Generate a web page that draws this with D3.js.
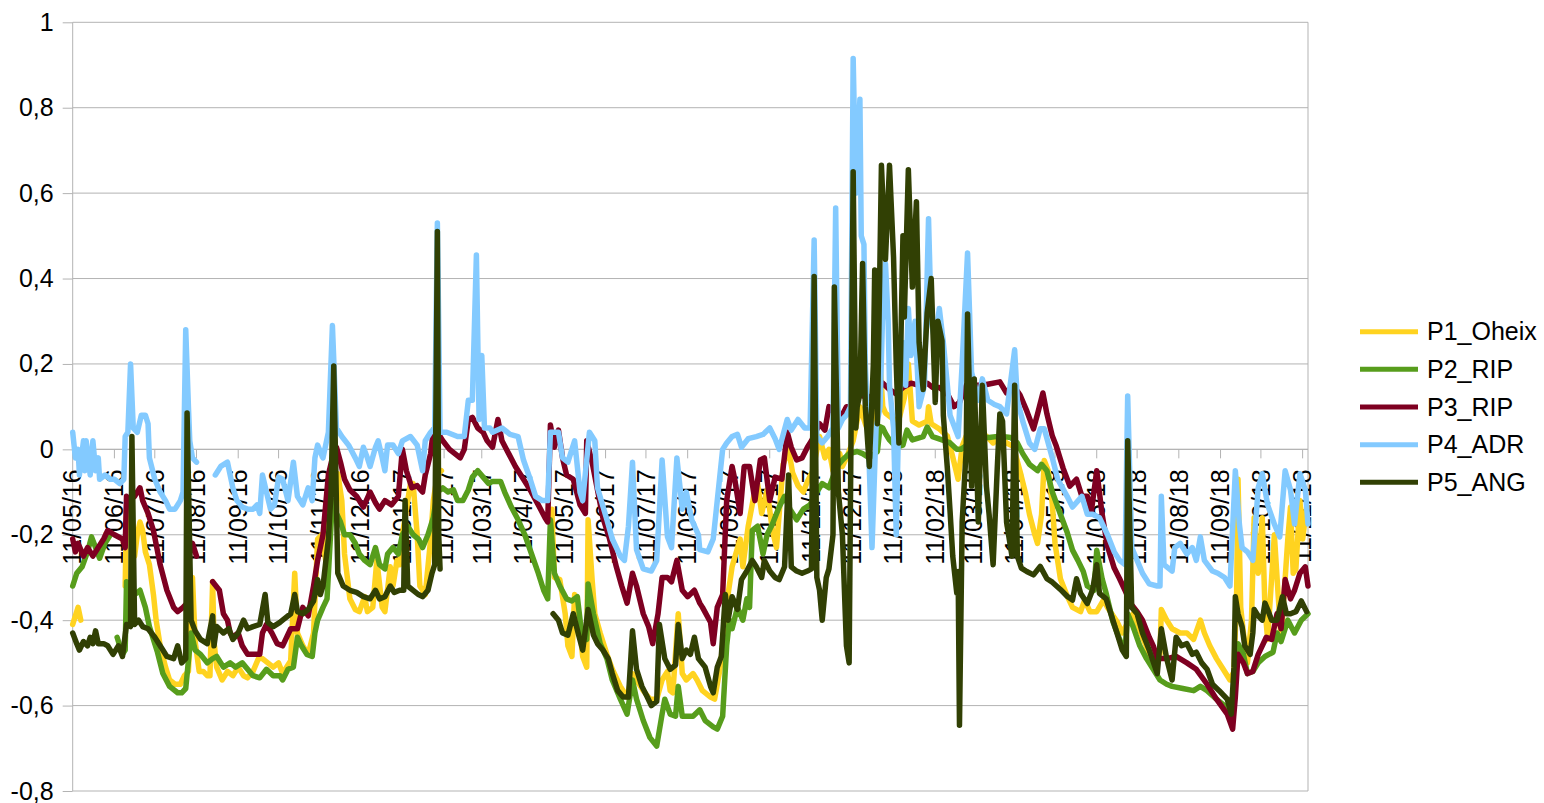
<!DOCTYPE html>
<html>
<head>
<meta charset="utf-8">
<script src="https://cdn.jsdelivr.net/npm/d3@7"></script>
<style>
  html, body { margin: 0; padding: 0; background: #ffffff; }
  svg { display: block; font-family: "Liberation Sans", Arial, sans-serif; }
</style>
</head>
<body>
<svg id="chart" width="1544" height="803"></svg>
<script>
// First reading date; every series point is [days since START, value] (null = no reading)
const START = new Date(2016, 4, 11);
const LAST_DAY = 918;

const tickLabels = ["11/05/16","11/06/16","11/07/16","11/08/16","11/09/16","11/10/16","11/11/16","11/12/16",
  "11/01/17","11/02/17","11/03/17","11/04/17","11/05/17","11/06/17","11/07/17","11/08/17","11/09/17",
  "11/10/17","11/11/17","11/12/17","11/01/18","11/02/18","11/03/18","11/04/18","11/05/18","11/06/18",
  "11/07/18","11/08/18","11/09/18","11/10/18","11/11/18"];

const yTicks = [-0.8, -0.6, -0.4, -0.2, 0, 0.2, 0.4, 0.6, 0.8, 1];

const seriesNames = ["P1_Oheix", "P2_RIP", "P3_RIP", "P4_ADR", "P5_ANG"];
const seriesColors = ["#ffd320", "#579d1c", "#7e0021", "#83caff", "#314004"];

const p1Oheix = [[0,-0.41],[2,-0.39],[4,-0.37],[6,-0.40],[7,null],
  [39,-0.32],[40,-0.14],[43,-0.16],[46,-0.25],[48,-0.20],[50,-0.17],[52,-0.19],[54,-0.24],[57,-0.27],[60,-0.34],
  [62,-0.40],[65,-0.46],[69,-0.51],[72,-0.54],[76,-0.55],[80,-0.55],[83,-0.53],[86,-0.52],[89,-0.30],[91,-0.45],
  [94,-0.52],[97,-0.52],[100,-0.53],[102,-0.53],[104,-0.31],[105,-0.45],[107,-0.51],[111,-0.54],[115,-0.52],
  [119,-0.53],[123,-0.51],[127,-0.53],[130,-0.535],[134,-0.52],[138,-0.49],[141,-0.49],[145,-0.50],[149,-0.51],
  [153,-0.50],[156,-0.525],[162,-0.495],[165,-0.29],[167,-0.43],[171,-0.46],[175,-0.48],[179,-0.43],[182,-0.21],
  [185,-0.20],[188,-0.26],[191,-0.09],[197,-0.057],[200,-0.12],[202,-0.245],[206,-0.35],[210,-0.375],[213,-0.38],
  [217,-0.345],[219,-0.38],[223,-0.37],[226,-0.26],[230,-0.37],[232,-0.38],[236,-0.275],[238,-0.32],[241,-0.26],
  [243,-0.27],[245,-0.20],[251,-0.08],[253,-0.08],[256,-0.20],[258,-0.32],[262,-0.34],[266,-0.21],[268,-0.12],
  [271,-0.06],[274,-0.05],[276,null],
  [356,-0.14],[358,-0.30],[362,-0.305],[366,-0.385],[368,-0.46],[371,-0.485],[373,-0.34],[376,-0.40],[379,-0.485],
  [382,-0.51],[383,-0.165],[386,-0.305],[388,-0.385],[392,-0.43],[397,-0.48],[401,-0.515],[407,-0.555],[412,-0.58],
  [416,-0.525],[419,-0.54],[424,-0.565],[429,-0.585],[434,-0.585],[438,-0.54],[442,-0.52],[444,-0.565],[446,-0.57],
  [450,-0.385],[453,-0.525],[456,-0.54],[461,-0.525],[464,-0.54],[468,-0.565],[474,-0.58],[477,-0.585],[481,-0.515],
  [483,-0.46],[487,-0.34],[490,-0.275],[496,-0.21],[498,-0.275],[502,-0.18],[507,-0.095],[509,-0.08],[512,-0.15],
  [516,-0.095],[520,-0.19],[523,-0.23],[528,-0.035],[532,0.0],[535,-0.055],[539,-0.085],[543,-0.10],[546,-0.075],
  [550,-0.05],[555,0.03],[559,-0.02],[562,0.0],[565,-0.05],[570,-0.01],[572,-0.04],[575,-0.02],[580,0.02],
  [585,0.10],[589,0.06],[594,0.02],[598,0.12],[600,0.20],[602,0.10],[604,0.085],[610,0.07],[614,0.07],[618,0.12],
  [621,0.20],[624,0.066],[629,0.057],[635,0.066],[636,0.10],[638,0.06],[644,0.048],[650,0.031],[654,-0.018],
  [658,-0.07],[661,0.007],[664,0.031],[668,0.03],[674,0.031],[679,0.031],[684,0.015],[689,0.031],[694,0.015],
  [699,0.007],[704,-0.051],[708,-0.102],[711,-0.152],[715,-0.20],[717,-0.22],[720,-0.152],[722,-0.026],[725,-0.05],
  [728,-0.128],[730,-0.22],[734,-0.303],[739,-0.343],[743,-0.37],[749,-0.38],[752,-0.353],[756,-0.38],[761,-0.38],
  [766,-0.353],[769,-0.37],[776,-0.403],[780,-0.43],[785,-0.40],[788,-0.385],[795,-0.44],[803,-0.50],[808,-0.48],
  [809,-0.375],[813,-0.40],[817,-0.42],[823,-0.43],[828,-0.43],[833,-0.445],[838,-0.40],[841,-0.43],[845,-0.46],
  [850,-0.49],[855,-0.515],[860,-0.54],[863,-0.52],[865,-0.33],[866,-0.07],[868,-0.37],[870,-0.43],[873,-0.50],
  [876,-0.40],[878,-0.16],[881,-0.29],[884,-0.16],[886,-0.37],[888,-0.445],[891,-0.30],[893,-0.20],[896,-0.35],
  [898,-0.445],[900,-0.35],[903,-0.21],[905,-0.135],[907,-0.29],[909,-0.28],[912,-0.12],[914,-0.21],[917,-0.135]];

const p2Rip = [[0,-0.32],[3,-0.29],[7,-0.275],[11,-0.24],[14,-0.205],[17,-0.23],[20,-0.255],[24,-0.22],[28,-0.20],[29,null],
  [33,-0.44],[35,-0.46],[37,-0.48],[39,-0.47],[40,-0.31],[43,-0.32],[46,-0.34],[50,-0.33],[54,-0.37],[57,-0.415],
  [63,-0.475],[67,-0.525],[72,-0.555],[78,-0.57],[81,-0.57],[84,-0.56],[88,-0.43],[91,-0.47],[95,-0.48],[100,-0.50],
  [104,-0.49],[107,-0.485],[112,-0.51],[117,-0.50],[121,-0.51],[126,-0.50],[130,-0.515],[134,-0.53],[139,-0.535],
  [144,-0.515],[149,-0.53],[154,-0.53],[156,-0.54],[160,-0.515],[164,-0.51],[167,-0.44],[170,-0.46],[174,-0.48],
  [178,-0.485],[180,-0.43],[182,-0.40],[186,-0.37],[189,-0.35],[193,-0.12],[196,-0.15],[199,-0.17],[202,-0.20],
  [206,-0.20],[210,-0.22],[213,-0.245],[217,-0.26],[221,-0.27],[225,-0.23],[228,-0.27],[232,-0.28],[234,-0.245],
  [238,-0.23],[242,-0.245],[245,-0.20],[249,-0.18],[253,-0.20],[257,-0.21],[260,-0.23],[264,-0.20],[268,-0.16],
  [271,-0.10],[275,-0.09],[279,-0.10],[283,-0.095],[286,-0.12],[290,-0.12],[294,-0.095],[297,-0.065],[301,-0.05],
  [305,-0.065],[309,-0.08],[312,-0.075],[318,-0.075],[321,-0.10],[326,-0.135],[331,-0.165],[336,-0.20],[341,-0.245],
  [346,-0.29],[350,-0.33],[353,-0.35],[355,-0.165],[358,-0.29],[362,-0.32],[367,-0.35],[371,-0.355],[375,-0.345],
  [378,-0.425],[382,-0.445],[383,-0.315],[387,-0.385],[392,-0.455],[397,-0.49],[401,-0.54],[407,-0.585],[412,-0.62],
  [416,-0.54],[419,-0.585],[424,-0.635],[429,-0.675],[434,-0.695],[438,-0.62],[440,-0.585],[444,-0.62],[448,-0.625],
  [450,-0.555],[453,-0.625],[456,-0.625],[461,-0.625],[466,-0.61],[470,-0.635],[476,-0.65],[479,-0.655],[483,-0.625],
  [486,-0.46],[488,-0.40],[490,-0.42],[494,-0.37],[498,-0.40],[501,-0.35],[503,-0.37],[505,-0.19],[509,-0.18],
  [513,-0.245],[516,-0.20],[520,-0.175],[525,-0.135],[529,-0.11],[533,-0.14],[538,-0.165],[543,-0.14],[548,-0.13],
  [553,-0.10],[557,-0.08],[562,-0.09],[568,-0.04],[572,-0.025],[577,-0.01],[583,-0.005],[587,-0.01],[592,-0.02],
  [598,-0.005],[600,0.053],[602,0.05],[604,0.037],[607,0.022],[612,0.005],[617,0.01],[620,0.045],[624,0.022],
  [632,0.03],[635,0.052],[639,0.03],[646,0.022],[652,0.015],[657,0.0],[660,0.0],[667,0.015],[674,0.028],[681,0.028],
  [689,0.031],[697,0.028],[702,0.015],[706,-0.01],[711,-0.035],[717,-0.05],[720,-0.035],[724,-0.05],[728,-0.10],
  [734,-0.152],[739,-0.194],[743,-0.236],[747,-0.26],[751,-0.286],[754,-0.32],[759,-0.33],[761,-0.236],[765,-0.303],
  [768,-0.337],[773,-0.403],[778,-0.445],[782,-0.475],[784,-0.385],[788,-0.415],[793,-0.46],[798,-0.49],[803,-0.515],
  [808,-0.54],[813,-0.55],[817,-0.555],[825,-0.56],[833,-0.565],[838,-0.555],[843,-0.565],[850,-0.585],[856,-0.60],
  [861,-0.62],[864,-0.54],[866,-0.455],[870,-0.48],[873,-0.525],[877,-0.52],[881,-0.50],[886,-0.485],[892,-0.475],
  [895,-0.43],[898,-0.45],[903,-0.40],[908,-0.43],[913,-0.40],[918,-0.385]];

const p3Rip = [[0,-0.21],[2,-0.24],[4,-0.22],[8,-0.25],[11,-0.23],[15,-0.25],[19,-0.23],[23,-0.21],[26,-0.19],
  [31,-0.20],[37,-0.21],[39,-0.23],[40,-0.11],[41,-0.12],[46,-0.11],[50,-0.09],[52,-0.12],[56,-0.15],[60,-0.19],
  [65,-0.27],[70,-0.33],[75,-0.37],[78,-0.38],[82,-0.37],[85,-0.36],[87,-0.24],[89,-0.22],[92,-0.25],[93,null],
  [104,-0.31],[109,-0.33],[112,-0.385],[115,-0.40],[117,-0.43],[119,-0.44],[123,-0.43],[126,-0.46],[130,-0.48],
  [134,-0.48],[139,-0.48],[141,-0.43],[144,-0.41],[148,-0.43],[152,-0.455],[156,-0.46],[162,-0.42],[167,-0.42],
  [171,-0.37],[175,-0.39],[179,-0.32],[182,-0.26],[186,-0.20],[190,-0.06],[193,-0.02],[196,0.005],[199,-0.03],
  [202,-0.07],[206,-0.095],[211,-0.11],[216,-0.135],[221,-0.10],[225,-0.125],[228,-0.14],[232,-0.12],[237,-0.13],
  [242,-0.11],[245,0.0],[248,-0.05],[252,-0.09],[256,-0.085],[260,-0.10],[262,-0.06],[266,-0.01],[268,0.045],
  [271,0.04],[275,0.02],[280,0.0],[284,-0.01],[288,-0.02],[291,0.0],[294,0.07],[297,0.075],[301,0.05],[305,0.04],
  [308,0.02],[312,0.005],[316,0.07],[319,0.02],[324,-0.01],[329,-0.04],[335,-0.07],[340,-0.095],[346,-0.13],
  [351,-0.16],[353,-0.17],[355,0.057],[358,0.005],[361,0.045],[364,-0.02],[367,-0.06],[372,-0.07],[377,-0.13],
  [381,-0.15],[382,0.02],[386,-0.03],[390,-0.095],[394,-0.16],[399,-0.21],[404,-0.275],[408,-0.32],[412,-0.36],
  [416,-0.29],[419,-0.32],[424,-0.385],[428,-0.415],[431,-0.455],[435,-0.385],[438,-0.30],[442,-0.30],[445,-0.31],
  [449,-0.26],[453,-0.33],[457,-0.345],[462,-0.33],[466,-0.36],[468,-0.37],[474,-0.405],[476,-0.455],[479,-0.37],
  [483,-0.34],[486,-0.12],[490,-0.04],[492,-0.07],[496,-0.15],[499,-0.04],[503,-0.04],[507,-0.12],[511,-0.025],
  [514,-0.02],[518,-0.12],[522,-0.065],[527,-0.07],[531,0.04],[534,0.005],[538,-0.025],[542,-0.02],[546,0.005],
  [549,0.02],[555,0.06],[559,0.045],[562,0.10],[566,0.085],[571,0.075],[575,0.10],[579,0.10],[583,0.14],[587,0.125],
  [592,0.12],[598,0.14],[602,0.155],[607,0.14],[612,0.13],[617,0.145],[623,0.155],[629,0.15],[635,0.155],[639,0.145],
  [644,0.145],[650,0.13],[655,0.10],[659,0.11],[664,0.15],[669,0.15],[676,0.15],[681,0.153],[689,0.158],[694,0.132],
  [699,0.15],[704,0.127],[709,0.09],[714,0.048],[717,0.083],[721,0.132],[724,0.083],[728,0.031],[731,0.007],
  [736,-0.044],[741,-0.086],[746,-0.07],[750,-0.11],[754,-0.11],[757,-0.145],[761,-0.05],[765,-0.152],[769,-0.227],
  [774,-0.278],[778,-0.303],[782,-0.33],[786,-0.36],[791,-0.38],[795,-0.40],[800,-0.44],[803,-0.46],[806,-0.49],
  [813,-0.49],[820,-0.485],[828,-0.50],[835,-0.515],[843,-0.55],[850,-0.585],[858,-0.62],[862,-0.655],[864,-0.58],
  [866,-0.48],[870,-0.50],[873,-0.525],[877,-0.52],[881,-0.48],[884,-0.46],[887,-0.44],[891,-0.445],[895,-0.385],
  [898,-0.42],[901,-0.305],[905,-0.35],[908,-0.33],[912,-0.29],[916,-0.275],[918,-0.32]];

const p4Adr = [[0,0.04],[2,-0.02],[4,0.0],[5,-0.06],[8,0.02],[9,-0.05],[10,0.02],[13,-0.06],[15,0.02],[17,-0.05],
  [19,-0.02],[20,-0.07],[24,-0.06],[28,-0.07],[31,-0.07],[35,-0.08],[38,-0.07],[39,0.03],[41,0.04],[43,0.20],
  [45,0.05],[48,0.04],[51,0.08],[54,0.08],[56,0.06],[57,-0.02],[61,-0.07],[65,-0.10],[69,-0.12],[72,-0.14],
  [76,-0.14],[80,-0.12],[82,-0.10],[84,0.28],[86,0.10],[87,0.02],[89,-0.02],[92,-0.03],[93,null],
  [106,-0.06],[110,-0.04],[115,-0.03],[117,-0.06],[119,-0.09],[122,-0.12],[126,-0.135],[130,-0.14],[134,-0.14],
  [137,-0.13],[139,-0.15],[141,-0.06],[144,-0.10],[147,-0.14],[150,-0.13],[153,-0.065],[156,-0.07],[160,-0.12],
  [164,-0.03],[167,-0.11],[171,-0.13],[175,-0.09],[178,-0.12],[180,-0.02],[182,0.01],[186,-0.02],[190,0.04],
  [193,0.29],[196,0.05],[200,0.03],[205,0.01],[210,-0.02],[213,-0.04],[216,0.005],[219,-0.02],[221,-0.04],
  [225,0.005],[227,0.02],[230,-0.02],[232,-0.05],[234,0.01],[238,0.01],[242,-0.01],[245,0.02],[251,0.03],[256,0.01],
  [260,-0.05],[262,0.02],[266,0.04],[269,0.05],[271,0.53],[273,0.04],[278,0.04],[286,0.03],[291,0.03],[294,0.115],
  [297,0.115],[300,0.455],[302,0.07],[304,0.22],[306,0.05],[310,0.05],[312,0.04],[319,0.05],[325,0.035],[331,0.03],
  [335,-0.025],[340,-0.07],[344,-0.11],[349,-0.12],[353,-0.12],[355,0.04],[361,0.04],[364,-0.02],[368,-0.03],
  [373,0.02],[377,-0.10],[379,-0.12],[384,0.04],[388,0.02],[390,-0.09],[397,-0.165],[401,-0.21],[407,-0.25],
  [410,-0.26],[413,-0.18],[416,-0.03],[419,-0.235],[424,-0.28],[430,-0.285],[434,-0.26],[438,-0.025],[442,-0.205],
  [445,-0.23],[449,-0.02],[453,-0.14],[456,-0.10],[460,-0.165],[465,-0.20],[466,-0.235],[472,-0.24],[476,-0.21],
  [479,-0.12],[483,0.0],[486,0.015],[490,0.03],[494,0.035],[497,0.005],[502,0.025],[508,0.03],[513,0.035],[518,0.05],
  [522,0.025],[525,0.0],[531,0.07],[534,0.045],[539,0.07],[544,0.05],[548,0.05],[551,0.49],[553,0.03],[557,0.015],
  [561,0.03],[565,0.05],[567,0.565],[569,0.05],[572,0.07],[575,0.08],[578,0.10],[580,0.915],[582,0.60],[585,0.82],
  [586,0.50],[588,0.48],[589,0.20],[591,0.05],[594,-0.23],[597,0.05],[600,0.10],[602,0.33],[604,0.435],[606,0.30],
  [607,0.15],[610,0.05],[612,-0.20],[614,0.10],[617,0.25],[619,0.15],[621,0.33],[623,0.22],[626,0.30],[629,0.10],
  [633,0.15],[636,0.54],[638,0.30],[641,0.25],[644,0.33],[647,0.25],[650,0.15],[652,0.08],[658,0.03],[661,0.20],
  [665,0.46],[668,0.18],[673,0.115],[676,0.165],[680,0.115],[685,0.105],[689,0.10],[694,0.083],[700,0.233],
  [702,0.115],[706,0.066],[711,0.015],[715,0.0],[719,0.048],[722,0.048],[728,-0.02],[732,-0.07],[739,-0.11],
  [743,-0.135],[750,-0.11],[754,-0.152],[758,-0.152],[763,-0.16],[769,-0.20],[774,-0.24],[778,-0.26],[782,-0.27],
  [784,0.125],[787,-0.23],[791,-0.26],[795,-0.29],[800,-0.315],[806,-0.32],[808,-0.32],[809,-0.11],[811,-0.27],
  [817,-0.285],[819,-0.23],[823,-0.22],[828,-0.245],[832,-0.23],[835,-0.26],[838,-0.205],[841,-0.26],[847,-0.285],
  [851,-0.29],[856,-0.30],[860,-0.32],[864,-0.05],[867,-0.175],[869,-0.23],[873,-0.24],[877,-0.26],[881,-0.09],
  [884,-0.057],[888,-0.13],[893,-0.175],[897,-0.205],[901,-0.05],[905,-0.095],[908,-0.175],[912,-0.057],
  [916,-0.095],[918,-0.175]];

const p5Ang = [[0,-0.43],[3,-0.455],[5,-0.47],[8,-0.45],[11,-0.46],[13,-0.44],[15,-0.455],[17,-0.425],[19,-0.455],
  [23,-0.455],[26,-0.46],[30,-0.48],[34,-0.46],[37,-0.485],[40,-0.41],[43,-0.415],[44,0.03],[46,-0.41],[49,-0.40],
  [52,-0.415],[56,-0.42],[61,-0.44],[65,-0.46],[70,-0.485],[75,-0.49],[78,-0.46],[81,-0.50],[84,-0.49],[85,0.085],
  [88,-0.40],[91,-0.425],[95,-0.445],[100,-0.455],[104,-0.39],[105,-0.46],[107,-0.415],[112,-0.43],[116,-0.42],
  [119,-0.445],[123,-0.43],[127,-0.40],[130,-0.42],[134,-0.415],[139,-0.41],[143,-0.34],[145,-0.405],[149,-0.415],
  [154,-0.405],[156,-0.40],[162,-0.385],[165,-0.34],[167,-0.38],[171,-0.385],[175,-0.375],[179,-0.355],[182,-0.305],
  [184,-0.34],[186,-0.32],[190,-0.21],[192,-0.10],[194,0.195],[197,-0.29],[201,-0.32],[206,-0.33],[211,-0.335],
  [216,-0.345],[221,-0.35],[225,-0.33],[228,-0.35],[232,-0.345],[236,-0.32],[239,-0.335],[243,-0.33],[246,-0.33],
  [247,-0.12],[249,-0.32],[253,-0.33],[257,-0.34],[260,-0.345],[264,-0.33],[267,-0.29],[269,-0.27],[271,0.51],
  [272,-0.20],[273,-0.28],[274,null],
  [357,-0.385],[361,-0.40],[364,-0.43],[368,-0.435],[372,-0.385],[376,-0.435],[379,-0.47],[383,-0.375],[387,-0.435],
  [390,-0.455],[394,-0.47],[398,-0.49],[401,-0.525],[405,-0.565],[409,-0.58],[413,-0.58],[416,-0.425],[419,-0.515],
  [423,-0.555],[427,-0.58],[430,-0.60],[434,-0.59],[436,-0.41],[440,-0.49],[444,-0.515],[448,-0.505],[450,-0.41],
  [453,-0.49],[456,-0.47],[459,-0.48],[462,-0.44],[465,-0.49],[470,-0.51],[474,-0.555],[476,-0.57],[479,-0.51],
  [482,-0.485],[485,-0.34],[487,-0.40],[490,-0.345],[494,-0.375],[497,-0.305],[501,-0.285],[505,-0.26],[508,-0.275],
  [512,-0.30],[514,-0.26],[518,-0.285],[522,-0.30],[525,-0.305],[529,-0.275],[532,-0.06],[534,-0.275],[538,-0.285],
  [542,-0.29],[546,-0.285],[549,-0.28],[551,0.405],[553,-0.30],[555,-0.33],[557,-0.40],[560,-0.30],[562,-0.28],
  [565,-0.20],[566,0.38],[569,-0.10],[572,-0.20],[575,-0.46],[577,-0.50],[580,0.65],[582,0.05],[583,0.10],[585,0.13],
  [587,0.435],[589,0.10],[592,-0.04],[595,0.20],[596,0.42],[598,0.06],[601,0.665],[604,0.445],[607,0.665],[610,0.45],
  [612,0.20],[614,0.015],[617,0.50],[618,0.31],[621,0.655],[624,0.38],[627,0.58],[629,0.25],[632,0.14],[635,0.32],
  [638,0.40],[641,0.11],[643,0.30],[646,0.255],[647,0.08],[650,-0.045],[652,-0.145],[654,-0.25],[657,-0.337],
  [658,-0.286],[659,-0.646],[661,-0.17],[664,0.0],[665,0.317],[668,-0.086],[670,0.165],[673,-0.17],[676,0.15],
  [679,-0.086],[681,-0.152],[684,-0.27],[687,-0.05],[689,0.083],[691,0.066],[694,-0.17],[698,-0.25],[700,0.15],
  [702,-0.25],[705,-0.278],[709,-0.286],[714,-0.294],[719,-0.274],[724,-0.303],[728,-0.311],[734,-0.328],[739,-0.344],
  [743,-0.353],[746,-0.303],[749,-0.337],[754,-0.361],[758,-0.328],[761,-0.27],[763,-0.337],[768,-0.35],[773,-0.40],
  [777,-0.44],[780,-0.47],[783,-0.485],[784,0.02],[787,-0.37],[791,-0.385],[795,-0.43],[800,-0.47],[806,-0.525],
  [809,-0.42],[813,-0.49],[817,-0.54],[820,-0.44],[824,-0.46],[828,-0.455],[832,-0.48],[835,-0.475],[839,-0.50],
  [843,-0.515],[847,-0.55],[852,-0.565],[858,-0.585],[861,-0.62],[863,-0.51],[864,-0.345],[866,-0.385],[869,-0.415],
  [871,-0.46],[875,-0.48],[877,-0.43],[878,-0.375],[881,-0.39],[884,-0.40],[886,-0.36],[888,-0.375],[891,-0.40],
  [895,-0.40],[899,-0.345],[902,-0.385],[905,-0.385],[909,-0.38],[913,-0.355],[917,-0.38]];

const seriesData = [p1Oheix, p2Rip, p3Rip, p4Adr, p5Ang];

// ---- layout ----
const svg = d3.select("#chart");
const plot = { left: 72.7, right: 1308, top: 22.3, bottom: 791 };
const grid = "#b3b3b3";
const fontSize = 25;

const dayToDate = d => d3.timeDay.offset(START, d);
const x = d3.scaleTime().domain([START, dayToDate(LAST_DAY)]).range([plot.left, plot.right]);
const y = d3.scaleLinear().domain([-0.8, 1]).range([plot.bottom, plot.top]);

const fr = d3.formatLocale({ decimal: ",", thousands: ".", grouping: [3], currency: ["", " €"], minus: "-" });
const yFmt = fr.format("~g");
const parseTick = d3.timeParse("%d/%m/%y");

// horizontal gridlines
svg.append("g").selectAll("line").data(yTicks).join("line")
  .attr("x1", plot.left).attr("x2", plot.right)
  .attr("y1", d => y(d)).attr("y2", d => y(d))
  .attr("stroke", grid).attr("stroke-width", 1);

// y axis
const yAxis = d3.axisLeft(y).tickValues(yTicks).tickSize(10).tickPadding(9).tickFormat(yFmt);
const gy = svg.append("g").attr("transform", `translate(${plot.left},0)`).call(yAxis);
gy.select(".domain").attr("stroke", grid).attr("d", `M0,${plot.top}V${plot.bottom}`);
gy.selectAll(".tick line").attr("stroke", grid);
gy.selectAll(".tick text").attr("font-size", fontSize).attr("font-family", "Liberation Sans, Arial, sans-serif")
  .attr("fill", "#000").attr("dy", "0.32em");

// right frame edge
svg.append("line").attr("x1", plot.right).attr("x2", plot.right)
  .attr("y1", plot.top).attr("y2", plot.bottom).attr("stroke", grid);

// x axis placed at value 0 with month ticks
const y0 = y(0);
const xTickDates = tickLabels.map(parseTick);
const gx = svg.append("g");
gx.append("line").attr("x1", plot.left).attr("x2", plot.right).attr("y1", y0).attr("y2", y0).attr("stroke", grid);
gx.selectAll("line.tk").data(xTickDates).join("line").attr("class", "tk")
  .attr("x1", d => x(d)).attr("x2", d => x(d)).attr("y1", y0).attr("y2", y0 + 9)
  .attr("stroke", grid);
gx.selectAll("text").data(tickLabels).join("text")
  .attr("transform", (d, i) => `translate(${x(xTickDates[i])},${y0 + 20}) rotate(-90)`)
  .attr("text-anchor", "end").attr("dy", "0.35em")
  .attr("font-size", fontSize).attr("fill", "#000")
  .text(d => d);

// series lines
const line = d3.line()
  .defined(d => d[1] !== null)
  .x(d => x(dayToDate(d[0])))
  .y(d => y(d[1]))
  .curve(d3.curveLinear);

svg.append("g").selectAll("path").data(seriesData).join("path")
  .attr("d", d => line(d))
  .attr("fill", "none")
  .attr("stroke", (d, i) => seriesColors[i])
  .attr("stroke-width", 5.5)
  .attr("stroke-linejoin", "round")
  .attr("stroke-linecap", "round");

// legend
const lg = svg.append("g");
seriesNames.forEach((name, i) => {
  const ly = 331.7 + i * 37.65;
  lg.append("line").attr("x1", 1360).attr("x2", 1418).attr("y1", ly).attr("y2", ly)
    .attr("stroke", seriesColors[i]).attr("stroke-width", 5);
  lg.append("text").attr("x", 1427).attr("y", ly).attr("dy", "0.35em")
    .attr("font-size", fontSize).attr("fill", "#000").text(name);
});
</script>
</body>
</html>
